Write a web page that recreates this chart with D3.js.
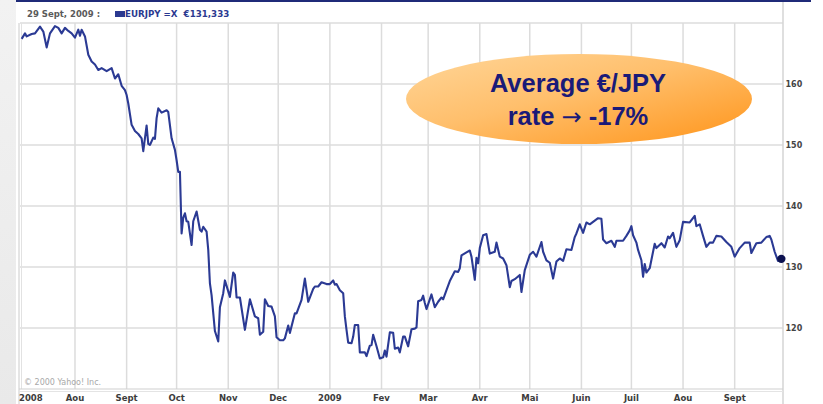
<!DOCTYPE html>
<html><head><meta charset="utf-8">
<script src="https://cdn.jsdelivr.net/npm/d3@7"></script>
<style>html,body{margin:0;padding:0;background:#fff;}svg{display:block;}</style>
</head><body>
<svg id="c" width="823" height="404"></svg>
<script>
// ---- data (EUR/JPY) ----
const dates = ["2008-06-30","2008-07-02","2008-07-03","2008-07-06","2008-07-08","2008-07-11","2008-07-13","2008-07-15","2008-07-17","2008-07-20",
"2008-07-22","2008-07-24","2008-07-26","2008-07-28","2008-07-30","2008-08-01","2008-08-03","2008-08-04","2008-08-05","2008-08-07",
"2008-08-09","2008-08-11","2008-08-13","2008-08-15","2008-08-17","2008-08-20","2008-08-23","2008-08-25","2008-08-27","2008-08-29",
"2008-08-31","2008-09-01","2008-09-02","2008-09-04","2008-09-06","2008-09-08","2008-09-10","2008-09-11","2008-09-13","2008-09-14",
"2008-09-15","2008-09-17","2008-09-18","2008-09-19","2008-09-20","2008-09-22","2008-09-25","2008-09-26","2008-09-28","2008-09-30",
"2008-10-01","2008-10-02","2008-10-03","2008-10-04","2008-10-05","2008-10-06","2008-10-07","2008-10-08","2008-10-10","2008-10-11",
"2008-10-13","2008-10-15","2008-10-16","2008-10-17","2008-10-19","2008-10-20","2008-10-21","2008-10-22","2008-10-24","2008-10-26",
"2008-10-27","2008-10-29","2008-10-30","2008-11-02","2008-11-04","2008-11-05","2008-11-06","2008-11-08","2008-11-11","2008-11-14",
"2008-11-17","2008-11-19","2008-11-20","2008-11-22","2008-11-23","2008-11-25","2008-11-27","2008-11-29","2008-11-30","2008-12-02",
"2008-12-04","2008-12-05","2008-12-07","2008-12-08","2008-12-11","2008-12-12","2008-12-15","2008-12-17","2008-12-19","2008-12-22",
"2008-12-23","2008-12-25","2008-12-27","2008-12-30","2009-01-01","2009-01-03","2009-01-04","2009-01-05","2009-01-07","2009-01-09",
"2009-01-10","2009-01-11","2009-01-12","2009-01-14","2009-01-15","2009-01-16","2009-01-18","2009-01-19","2009-01-22","2009-01-23",
"2009-01-25","2009-01-26","2009-01-27","2009-01-29","2009-01-31","2009-02-02","2009-02-03","2009-02-04","2009-02-06","2009-02-08",
"2009-02-09","2009-02-11","2009-02-12","2009-02-14","2009-02-15","2009-02-17","2009-02-19","2009-02-21","2009-02-22","2009-02-23",
"2009-02-25","2009-02-26","2009-02-27","2009-02-28","2009-03-03","2009-03-05","2009-03-07","2009-03-09","2009-03-10","2009-03-12",
"2009-03-14","2009-03-17","2009-03-19","2009-03-20","2009-03-21","2009-03-24","2009-03-26","2009-03-27","2009-03-29","2009-03-30",
"2009-03-31","2009-04-01","2009-04-03","2009-04-05","2009-04-07","2009-04-10","2009-04-11","2009-04-13","2009-04-15","2009-04-17",
"2009-04-19","2009-04-20","2009-04-22","2009-04-25","2009-04-26","2009-04-28","2009-05-01","2009-05-03","2009-05-05","2009-05-08",
"2009-05-09","2009-05-11","2009-05-13","2009-05-15","2009-05-17","2009-05-19","2009-05-21","2009-05-23","2009-05-26","2009-05-28",
"2009-05-29","2009-05-31","2009-06-02","2009-06-04","2009-06-06","2009-06-08","2009-06-11","2009-06-13","2009-06-14","2009-06-16",
"2009-06-19","2009-06-21","2009-06-22","2009-06-26","2009-06-28","2009-06-30","2009-07-01","2009-07-02","2009-07-04","2009-07-05",
"2009-07-07","2009-07-08","2009-07-09","2009-07-10","2009-07-12","2009-07-14","2009-07-15","2009-07-16","2009-07-19","2009-07-21",
"2009-07-23","2009-07-24","2009-07-26","2009-07-28","2009-07-30","2009-08-01","2009-08-05","2009-08-08","2009-08-09","2009-08-11",
"2009-08-13","2009-08-15","2009-08-17","2009-08-19","2009-08-21","2009-08-24","2009-08-27","2009-08-30","2009-09-01","2009-09-04",
"2009-09-07","2009-09-10","2009-09-11","2009-09-14","2009-09-17","2009-09-20","2009-09-22","2009-09-23","2009-09-25","2009-09-27",
"2009-09-29"];
const values = [167.4,168.3,167.8,168.2,168.3,169.4,168.6,166.0,168.3,169.5,
169.2,168.3,169.2,168.7,168.3,167.6,168.9,167.9,168.9,167.8,
164.8,163.7,163.2,162.3,162.6,162.1,162.6,160.9,161.6,159.7,
159.0,158.2,156.8,153.3,152.3,151.8,151.1,149.0,153.2,150.2,
150.0,151.2,151.0,154.4,156.0,155.3,155.7,155.4,151.1,149.2,
147.5,145.6,145.6,135.5,138.1,138.8,137.5,137.4,133.6,137.5,
139.1,136.1,135.8,136.6,135.8,132.8,127.3,125.4,119.5,117.8,
123.4,125.7,127.8,125.1,129.1,128.7,125.0,125.0,119.7,124.7,
121.9,121.6,118.9,119.4,124.7,123.6,123.5,121.9,118.5,118.0,
118.0,118.3,120.4,119.2,122.4,122.4,124.6,128.1,124.3,126.4,
126.8,126.8,127.5,127.2,127.2,127.8,127.1,127.2,126.2,125.7,
121.9,119.7,117.6,117.5,118.6,120.5,120.5,116.0,116.0,115.4,
117.1,117.2,118.9,117.0,115.0,115.2,116.3,115.3,119.3,119.2,
116.6,116.8,116.0,118.6,118.6,117.0,119.8,119.9,120.1,124.4,
124.6,125.3,124.1,123.1,125.5,123.4,124.3,125.0,124.7,126.2,
127.7,129.3,129.2,129.8,131.9,132.4,132.7,131.7,127.9,131.5,
130.6,133.1,135.2,135.4,132.2,132.5,134.0,131.7,131.4,130.3,
126.7,127.7,128.0,128.7,125.9,129.5,132.0,132.5,131.7,134.1,
132.5,131.1,130.7,128.1,130.9,131.4,131.0,132.9,132.8,134.9,
135.5,137.0,135.6,137.3,137.0,137.4,138.0,137.9,134.5,133.9,
134.3,133.3,134.3,134.3,135.1,136.0,136.7,135.2,134.0,132.8,
131.1,128.4,130.5,129.1,129.8,132.5,133.8,133.1,133.9,133.2,
135.0,134.7,135.6,133.3,134.4,137.4,137.3,138.4,136.7,137.0,
135.1,133.3,134.0,134.0,135.1,135.0,134.1,133.3,131.7,133.1,
134.0,134.0,132.3,133.9,134.0,134.9,135.1,134.5,132.5,131.0,
131.333];
const monthTickDates = ["2008-08-01","2008-09-01","2008-10-01","2008-11-01","2008-12-01","2009-01-01","2009-02-01","2009-03-01","2009-04-01","2009-05-01","2009-06-01","2009-07-01","2009-08-01","2009-09-01"];
const monthTickLabels = ["Aou","Sept","Oct","Nov","Dec","2009","Fev","Mar","Avr","Mai","Juin","Juil","Aou","Sept"];
const startLabel = "2008";
const yTicks = [120,130,140,150,160];
const yGrid = [120,130,140,150,160,170];
const headerDate = "29 Sept, 2009 :";
const headerSeries = "EURJPY =X  €131,333";
const calloutLine1 = "Average €/JPY";
const calloutLine2 = ["rate ", "\u2192", " -17%"];

// ---- drawing ----
const parse = d3.timeParse("%Y-%m-%d");
const data = dates.map((d,i)=>({date:parse(d), value:values[i]}));
const L=20, R=783, T=23, B=389;
const x = d3.scaleTime().domain([parse("2008-06-29"), parse("2009-09-30")]).range([L,R]);
const y = d3.scaleLinear().domain([110,170]).range([B,T]);
const svg = d3.select("#c");

// slide background strip at left
const defs = svg.append("defs");
const bg = defs.append("linearGradient").attr("id","bgs").attr("x1",0).attr("y1",0).attr("x2",0).attr("y2",1);
bg.append("stop").attr("offset","0%").attr("stop-color","#f2f2f2");
bg.append("stop").attr("offset","100%").attr("stop-color","#e9e9e9");
svg.append("rect").attr("x",0).attr("y",0).attr("width",16).attr("height",404).attr("fill","url(#bgs)");

// top navy border
svg.append("rect").attr("x",16).attr("y",0).attr("width",795).attr("height",2).attr("fill","#1f2a78");

// gridlines
const g = svg.append("g");
g.selectAll("line.h").data(yGrid).join("line")
  .attr("x1",L).attr("x2",R).attr("y1",d=>y(d)).attr("y2",d=>y(d))
  .attr("stroke","#dcdcdc").attr("stroke-width",1.5);
g.selectAll("line.v").data(monthTickDates).join("line")
  .attr("x1",d=>x(parse(d))).attr("x2",d=>x(parse(d))).attr("y1",T).attr("y2",B)
  .attr("stroke","#dcdcdc").attr("stroke-width",1.5);

// frame lines
svg.append("line").attr("x1",L-1).attr("x2",L-1).attr("y1",T).attr("y2",404).attr("stroke","#d4d4d4").attr("stroke-width",1.2);
svg.append("line").attr("x1",L+1.5).attr("x2",L+1.5).attr("y1",T).attr("y2",B).attr("stroke","#e2e2e2").attr("stroke-width",1);
svg.append("line").attr("x1",R).attr("x2",R).attr("y1",2).attr("y2",404).attr("stroke","#d4d4d4").attr("stroke-width",1.5);
svg.append("line").attr("x1",L-1).attr("x2",R).attr("y1",B).attr("y2",B).attr("stroke","#d0d0d0").attr("stroke-width",1.2);
svg.append("line").attr("x1",L-1).attr("x2",R).attr("y1",B+2.5).attr("y2",B+2.5).attr("stroke","#e4e4e4").attr("stroke-width",1);

// x axis labels
const xa = svg.append("g").attr("font-family","DejaVu Sans, Verdana, sans-serif").attr("font-weight","bold")
  .attr("font-size","8.5px").attr("fill","#3c3c3c");
xa.selectAll("text.m").data(monthTickDates).join("text")
  .attr("x",d=>x(parse(d))).attr("y",401).attr("text-anchor","middle")
  .text((d,i)=>monthTickLabels[i]);
xa.append("text").attr("x",x(parse("2008-06-29"))-1).attr("y",401).attr("text-anchor","start").text(startLabel);

// y axis labels (right)
svg.append("g").attr("font-family","DejaVu Sans, Verdana, sans-serif").attr("font-weight","bold")
  .attr("font-size","8px").attr("fill","#444")
  .selectAll("text").data(yTicks).join("text")
  .attr("x",R+2.5).attr("y",d=>y(d)+3).text(d=>d);

// header
svg.append("text").attr("x",27).attr("y",17).attr("font-family","DejaVu Sans, Verdana, sans-serif")
  .attr("font-weight","bold").attr("font-size","8.5px").attr("fill","#5a5a5a").text(headerDate);
svg.append("rect").attr("x",115).attr("y",11).attr("width",10).attr("height",6).attr("fill","#2b3990");
svg.append("text").attr("x",125).attr("y",17).attr("font-family","DejaVu Sans, Verdana, sans-serif")
  .attr("font-weight","bold").attr("font-size","8.7px").attr("fill","#2b3990").attr("xml:space","preserve").text(headerSeries);

// copyright
svg.append("text").attr("x",24).attr("y",385).attr("font-family","DejaVu Sans, Verdana, sans-serif")
  .attr("font-size","8px").attr("fill","#a8a8a8").text("\u00a9 2000 Yahoo! Inc.");

// line
const line = d3.line().x(d=>x(d.date)).y(d=>y(d.value));
svg.append("path").datum(data).attr("d",line).attr("fill","none")
  .attr("stroke","#2b3a94").attr("stroke-width",2.1).attr("stroke-linejoin","round");
const last = data[data.length-1];
svg.append("circle").attr("cx",x(last.date)).attr("cy",y(last.value)).attr("r",4.2).attr("fill","#0b114f");

// callout ellipse
const eg = defs.append("linearGradient").attr("id","eg").attr("x1","0%").attr("y1","0%").attr("x2","100%").attr("y2","100%");
eg.append("stop").attr("offset","0%").attr("stop-color","#ffd699");
eg.append("stop").attr("offset","45%").attr("stop-color","#ffbf6c");
eg.append("stop").attr("offset","100%").attr("stop-color","#ff9419");
svg.append("ellipse").attr("cx",579).attr("cy",99).attr("rx",173).attr("ry",45).attr("fill","url(#eg)");
const cg = svg.append("g").attr("font-family","Liberation Sans, Arial, sans-serif").attr("font-weight","bold")
  .attr("font-size","25.5px").attr("fill","#1a1a78").attr("text-anchor","middle");
cg.append("text").attr("x",578).attr("y",92).text(calloutLine1);
const t2 = cg.append("text").attr("x",578).attr("y",125);
t2.selectAll("tspan").data(calloutLine2).join("tspan")
  .attr("font-family",(d,i)=>i===1?"DejaVu Sans, sans-serif":null)
  .attr("font-weight",(d,i)=>i===1?"normal":null)
  .attr("font-size",(d,i)=>i===1?"24px":null)
  .text(d=>d);
</script>
</body></html>
